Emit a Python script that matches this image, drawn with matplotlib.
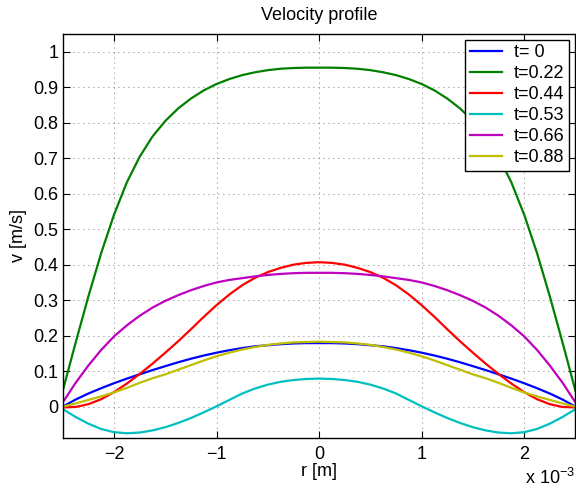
import numpy as np
import matplotlib
matplotlib.use('Agg')
from matplotlib import pyplot as plt

plt.rcParams['font.family'] = ['Liberation Sans', 'DejaVu Sans']
plt.rcParams['mathtext.default'] = 'regular'

# half profile, radius from centre to wall [mm]
r_half = [0.0, 0.125, 0.25, 0.375, 0.5, 0.625, 0.75, 0.875, 1.0, 1.125, 1.25,
          1.375, 1.5, 1.625, 1.75, 1.875, 2.0, 2.125, 2.25, 2.375, 2.5]

v_t000 = [0.179, 0.179, 0.178, 0.176, 0.173, 0.170, 0.165, 0.159, 0.152, 0.144, 0.135,
          0.125, 0.114, 0.103, 0.091, 0.079, 0.066, 0.052, 0.037, 0.020, 0.000]
v_t022 = [0.955, 0.955, 0.954, 0.952, 0.948, 0.942, 0.934, 0.923, 0.909, 0.891, 0.868,
          0.840, 0.805, 0.761, 0.704, 0.632, 0.541, 0.433, 0.311, 0.180, 0.045]
v_t044 = [0.407, 0.405, 0.400, 0.391, 0.379, 0.363, 0.342, 0.316, 0.286, 0.253, 0.218,
          0.184, 0.152, 0.121, 0.092, 0.065, 0.041, 0.021, 0.007, -0.001, -0.002]
v_t053 = [0.079, 0.078, 0.075, 0.070, 0.062, 0.051, 0.037, 0.019, 0.001, -0.016, -0.032,
          -0.046, -0.058, -0.067, -0.073, -0.075, -0.072, -0.063, -0.048, -0.029, -0.007]
v_t066 = [0.377, 0.377, 0.376, 0.374, 0.371, 0.367, 0.362, 0.357, 0.350, 0.340, 0.328,
          0.314, 0.298, 0.279, 0.256, 0.229, 0.198, 0.160, 0.116, 0.067, 0.012]
v_t088 = [0.183, 0.182, 0.181, 0.178, 0.174, 0.168, 0.161, 0.152, 0.142, 0.130, 0.117,
          0.104, 0.091, 0.080, 0.067, 0.053, 0.040, 0.029, 0.019, 0.009, 0.000]

labels = ['t= 0', 't=0.22', 't=0.44', 't=0.53', 't=0.66', 't=0.88']
profiles = [v_t000, v_t022, v_t044, v_t053, v_t066, v_t088]
colors = ['b', 'g', 'r', 'c', 'm', 'y']


def mirror(vals):
    vals = np.asarray(vals)
    return np.concatenate([vals[::-1], vals[1:]])


rh = np.asarray(r_half) * 1e-3
r = np.concatenate([-rh[::-1], rh[1:]])

fs = 13
fig = plt.figure(figsize=(5.76, 4.92), dpi=100)
ax = fig.add_axes([0.109, 0.110, 0.890, 0.821])

for vals, lab, col in zip(profiles, labels, colors):
    ax.plot(r, mirror(vals), color=col, lw=1.6, label=lab)

ax.set_xlim(-2.5e-3, 2.5e-3)
ax.set_ylim(-0.088, 1.05)
ax.set_xticks([-2e-3, -1e-3, 0, 1e-3, 2e-3])
ax.set_xticklabels(['\u22122', '\u22121', '0', '1', '2'])
ax.set_yticks(np.arange(0, 11) / 10)
ax.set_yticklabels(['0', '0.1', '0.2', '0.3', '0.4', '0.5', '0.6', '0.7', '0.8', '0.9', '1'])
ax.tick_params(direction='in', top=True, right=True, length=5, labelsize=fs)
ax.tick_params(axis='y', pad=3)
ax.tick_params(axis='x', pad=6)
ax.grid(True, linestyle=(0, (1, 5)), color='0.3', lw=0.6)
for s in ax.spines.values():
    s.set_linewidth(1.0)

ax.set_title('Velocity profile', fontsize=fs, pad=10)
ax.set_xlabel('r [m]', fontsize=fs, labelpad=0)
ax.set_ylabel('v [m/s]', fontsize=fs, labelpad=5)
fig.text(0.999, 0.008, r'x 10$^{-3}$', ha='right', va='bottom', fontsize=fs)

leg = ax.legend(loc='upper right', fontsize=fs, frameon=True, fancybox=False,
                framealpha=1, edgecolor='k', labelspacing=0.22, handlelength=1.8,
                handletextpad=0.65, borderpad=0.25, borderaxespad=0.33)
leg.get_frame().set_linewidth(1.0)

plt.savefig('out.png', dpi=100)
plt.close()
